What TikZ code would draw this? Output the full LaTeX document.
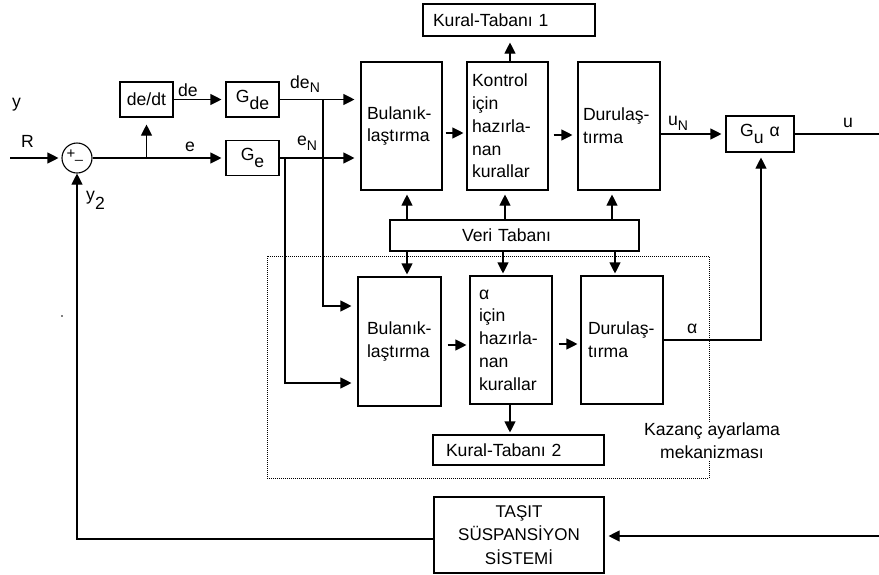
\documentclass[tikz,border=0pt]{standalone}
\usepackage{fontspec}
\setmainfont{Liberation Sans}
\usetikzlibrary{arrows.meta,calc}
\newcommand{\subN}{\fontsize{14}{14}\selectfont N}
\begin{document}
\begin{tikzpicture}[x=1pt,y=-1pt,
  every node/.style={font=\fontsize{17.6}{22.8}\selectfont},
  ln/.style={line width=1.1pt},
  arr/.style={ln,-{Triangle[length=11pt,width=11pt]}},
  blk/.style={draw,line width=1.1pt,inner ysep=0pt,align=left},
  cblk/.style={draw,line width=1.1pt,inner sep=0pt,align=center},
  lbl/.style={inner sep=0pt,anchor=base west}]
\useasboundingbox (0,0) rectangle (879,574);

% dotted gain-adjustment frame
\node[draw,line width=1pt,dash pattern=on 1pt off 1pt,minimum width=442pt,minimum height=222pt,inner sep=0pt] (gain) at (488,367) {};

% left part
\node[draw,circle,line width=1.1pt,minimum size=30pt,inner sep=0pt] (sum) at (77,158) {};
\node[inner sep=0pt,font=\fontsize{15}{15}\selectfont] (plus) at (71,154) {+};
\node[inner sep=0pt,font=\fontsize{14}{14}\selectfont] (minus) at (79,160) {\_};
\node[cblk,minimum width=53pt,minimum height=35pt] (ddt) at (146.5,99.5) {de/dt};
\node[cblk,minimum width=53pt,minimum height=35pt] (gde) at (252.5,99.5) {G\raisebox{-7pt}{de}};
\node[cblk,minimum width=53pt,minimum height=35pt] (ge) at (252.5,158) {G\raisebox{-7pt}{e}};

% upper fuzzy controller
\node[blk,minimum height=128pt,text width=69pt,inner xsep=6pt] (bul1) at (401.5,126) {Bulanık-\\laştırma};
\node[blk,minimum height=128pt,text width=71pt,inner xsep=5pt] (kon) at (507.5,126) {Kontrol\\için\\hazırla-\\nan\\kurallar};
\node[blk,minimum height=128pt,text width=72pt,inner xsep=5pt] (dur1) at (619,126) {Durulaş-\\tırma};
\node[blk,minimum height=32pt,text width=152pt,inner xsep=10pt] (kt1) at (509,20) {Kural-Tabanı 1};
\node[cblk,minimum width=68pt,minimum height=36pt] (gu) at (760,134) {G\raisebox{-7pt}{u}\,\,α};
\node[blk,minimum height=31pt,text width=105pt,inner xsep=72pt] (vt) at (514.5,235.5) {Veri Tabanı};

% lower fuzzy block
\node[blk,minimum height=129pt,text width=65pt,inner xsep=9pt] (bul2) at (399.5,341.5) {Bulanık-\\laştırma};
\node[blk,minimum height=128pt,text width=64pt,inner xsep=9pt] (kur2) at (511,340) {α\\için\\hazırla-\\nan\\kurallar};
\node[blk,minimum height=128pt,text width=68pt,inner xsep=7pt] (dur2) at (622,340) {Durulaş-\\tırma};
\node[blk,minimum height=30pt,text width=145pt,inner xsep=13pt] (kt2) at (518.5,450) {Kural-Tabanı 2};
\node[fill=white,inner sep=1pt,align=center] (kaz) at (712,441) {Kazanç ayarlama\\mekanizması};

% plant
\node[cblk,minimum width=170pt,minimum height=76pt,font=\fontsize{17}{23.5}\selectfont] (tas) at (519,535) {TAŞIT\\SÜSPANSİYON\\SİSTEMİ};

% free ends and junctions
\coordinate (yRin) at (10,158);
\coordinate (jdn) at (323,99.5);
\coordinate (jdn2) at (323,306);
\coordinate (jen) at (285,158);
\coordinate (jen2) at (285,383);
\coordinate (uout) at (879,134);
\coordinate (ja) at (761,340);
\coordinate (rin) at (879,536);
\coordinate (fb) at (77,539);

% connectors
\draw[arr,shorten >=3pt] (yRin) -- (sum.west);
\draw[arr,shorten >=4pt] (sum.east) -- (ge.west);
\draw[arr,shorten >=7pt] (sum.east -| ddt.south) -- (ddt.south);
\draw[arr,shorten >=4pt] (ddt.east) -- (gde.west);
\draw[arr,shorten >=6pt] (gde.east) -- (gde.east -| bul1.west);
\draw[arr,shorten >=6pt] (ge.east) -- (ge.east -| bul1.west);
\draw[arr,shorten >=6pt] (jdn) -- (jdn2) -- (jdn2 -| bul2.west);
\draw[arr,shorten >=6pt] (jen) -- (jen2) -- (jen2 -| bul2.west);
\draw[arr,shorten <=3pt,shorten >=3pt] (bul1.east |- 0,133) -- (kon.west |- 0,133);
\draw[arr,shorten <=5pt,shorten >=5pt] (kon.east |- 0,135) -- (dur1.west |- 0,135);
\draw[arr,shorten >=6pt] (kon.north -| 510,0) -- (kt1.south -| 510,0);
\draw[arr,shorten >=4pt] (gu.west -| dur1.east) -- (gu.west);
\draw[ln] (gu.east) -- (uout);
\draw[arr,shorten >=4pt] (vt.north -| 407,0) -- (bul1.south -| 407,0);
\draw[arr,shorten >=4pt] (vt.north -| 505,0) -- (kon.south -| 505,0);
\draw[arr,shorten >=4pt] (vt.north -| 612,0) -- (dur1.south -| 612,0);
\draw[arr,shorten >=2pt] (vt.south -| 407,0) -- (bul2.north -| 407,0);
\draw[arr,shorten >=2pt] (vt.south -| 503,0) -- (kur2.north -| 503,0);
\draw[arr,shorten >=2pt] (vt.south -| 615,0) -- (dur2.north -| 615,0);
\draw[arr,shorten <=6pt,shorten >=3pt] (bul2.east |- 0,345) -- (kur2.west |- 0,345);
\draw[arr,shorten <=6pt,shorten >=3pt] (kur2.east |- 0,344) -- (dur2.west |- 0,344);
\draw[arr,shorten >=2pt] (kur2.south -| 510,0) -- (kt2.north -| 510,0);
\draw[arr,shorten >=5pt] (dur2.east |- ja) -- (ja) -- (ja |- gu.south);
\draw[arr,shorten >=4pt] (rin) -- (rin -| tas.east);
\draw[arr] (tas.west |- fb) -- (fb) -- (sum.south);

% signal labels
\node[lbl] (lyR) at (12,107) {y};
\node[lbl] (lR) at (21,147) {R};
\node[lbl] (ly2) at (86,200) {y\raisebox{-9pt}{2}};
\node[lbl] (lde) at (178,96) {de};
\node[lbl] (le) at (185,151) {e};
\node[lbl] (ldeN) at (290,88) {de\raisebox{-4pt}{\subN}};
\node[lbl] (leN) at (297,145) {e\raisebox{-5pt}{\subN}};
\node[lbl] (luN) at (668,125) {u\raisebox{-5pt}{\subN}};
\node[lbl] (lu) at (843,127) {u};
\node[lbl] (lal) at (687,333) {α};
\fill (62,316) circle (0.8pt);
\end{tikzpicture}
\end{document}
